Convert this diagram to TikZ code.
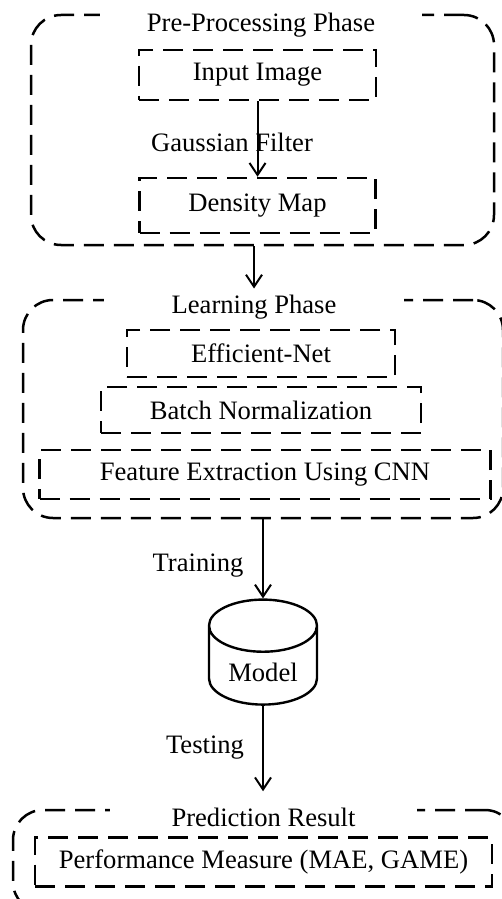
\documentclass[tikz,border=0pt]{standalone}
\usepackage{fontspec}
\setmainfont{Liberation Serif}
\usetikzlibrary{arrows.meta,positioning,shapes.geometric}

\begin{document}
\begin{tikzpicture}[
    x=0.5pt, y=-0.5pt,
    font=\fontsize{13.3}{16}\selectfont,
    phase/.style={draw, line width=1.25pt, dash pattern=on 10pt off 5pt, rounded corners=15pt},
    title/.style={fill=white, inner ysep=3pt},
    stepbox/.style={draw, line width=1.25pt, dash pattern=on 10pt off 5pt, align=center, minimum height=24.5pt},
    dbase/.style={draw, line width=1.2pt, cylinder, shape border rotate=90, aspect=0.63},
    arrow/.style={-{Straight Barb[length=6pt,width=8pt]}, line width=1pt}
]
\path[use as bounding box] (0,0) rectangle (502,899);
\clip (0,0) rectangle (502,899);

% pre-processing
\node[phase, minimum width=231.5pt, minimum height=115pt] (pre) at (262.5,130) {};
\node[title, minimum width=161pt] (pretitle) at (261,25) {Pre-Processing Phase};
\node[stepbox, minimum width=118.5pt, minimum height=25pt] (inimg) at (257.5,75) {Input Image};
\node[stepbox, minimum width=118pt, minimum height=27.5pt, below=37.75pt of inimg] (dmap) {Density Map};
\draw[arrow] (inimg) -- (dmap);
\node (gauss) at (232,142) {Gaussian Filter};

% learning
\node[phase, minimum width=240pt, minimum height=109pt] (learn) at (263,409) {};
\node[title, minimum width=150pt] (learntitle) at (254,307) {Learning Phase};
\node[stepbox, minimum width=134pt, minimum height=23.5pt] (effnet) at (261,353.5) {Efficient-Net};
\node[stepbox, minimum width=160pt, minimum height=23pt, below=3.75pt of effnet] (bnorm) {Batch Normalization};
\node[stepbox, minimum width=225.5pt, below=7.25pt of bnorm, xshift=2pt] (feat) {Feature Extraction Using CNN};
\draw[arrow] (learntitle.north |- pre.south) -- (learntitle.north);

% model
\node[dbase, minimum width=54pt, minimum height=52.5pt] (model) at (263,672) {Model};
\draw[arrow] (model.north |- learn.south) -- (model.north);
\node (train) at (198,566) {Training};

% prediction
\node[phase, minimum width=251pt, minimum height=51pt] (pred) at (264,861) {};
\node[title, minimum width=153.5pt] (predtitle) at (263.5,817) {Prediction Result};
\node[stepbox, minimum width=228.5pt] (perf) at (263.5,862) {Performance Measure (MAE, GAME)};
\draw[arrow, shorten >=5pt] (model.south) -- (model.south |- predtitle.north);
\node (test) at (205,748) {Testing};
\end{tikzpicture}
\end{document}
